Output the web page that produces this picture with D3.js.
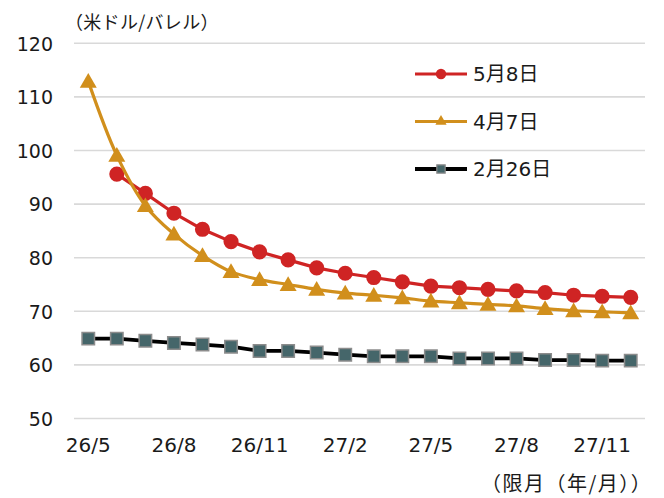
<!DOCTYPE html>
<html>
<head>
<meta charset="utf-8">
<script src="https://cdn.jsdelivr.net/npm/d3@7"></script>
<style>
html, body { margin: 0; padding: 0; background: #fff; }
svg { display: block; }
text { font-family: "DejaVu Sans", "Noto Sans CJK JP", sans-serif; fill: #1a1a1a; }
</style>
</head>
<body>
<svg id="chart" width="664" height="498"></svg>
<script>
const categories = ["26/5","26/6","26/7","26/8","26/9","26/10","26/11","26/12",
  "27/1","27/2","27/3","27/4","27/5","27/6","27/7","27/8","27/9","27/10","27/11","27/12"];
const tickLabels = ["26/5","26/8","26/11","27/2","27/5","27/8","27/11"];
const yTicks = [50, 60, 70, 80, 90, 100, 110, 120];
const seriesNames = ["5月8日", "4月7日", "2月26日"];
const may8 = [null, 95.6, 92.0, 88.3, 85.3, 83.0, 81.1, 79.6, 78.1, 77.1,
  76.3, 75.5, 74.7, 74.4, 74.1, 73.8, 73.5, 73.0, 72.8, 72.6];
const apr7 = [112.9, 99.1, 89.7, 84.4, 80.4, 77.4, 75.9, 75.0, 74.1, 73.4,
  73.0, 72.5, 71.9, 71.6, 71.3, 71.0, 70.5, 70.1, 69.9, 69.7];
const feb26 = [64.9, 64.9, 64.5, 64.1, 63.8, 63.4, 62.6, 62.6, 62.3, 61.9,
  61.6, 61.6, 61.6, 61.2, 61.2, 61.2, 60.9, 60.9, 60.8, 60.8];
const yUnit = "（米ドル/バレル）";
const xTitle = "（限月（年/月））";

const svg = d3.select("#chart");
const x = d3.scaleBand().domain(categories).range([74, 645]);
const y = d3.scaleLinear().domain([50, 120]).range([418.5, 43.3]);
const cx = d => x(d) + x.bandwidth() / 2;

// gridlines
svg.append("g").selectAll("line").data(yTicks).join("line")
  .attr("x1", 74).attr("x2", 645)
  .attr("y1", d => y(d)).attr("y2", d => y(d))
  .attr("stroke", "#d9d9d9").attr("stroke-width", 1.6);

// y axis
const yAxis = svg.append("g").attr("transform", "translate(53,0)")
  .call(d3.axisLeft(y).tickValues(yTicks).tickSize(0).tickPadding(0));
yAxis.select(".domain").remove();
yAxis.selectAll("text").attr("font-size", 19).attr("dy", "0.36em")
  .style("font-family", "'DejaVu Sans', sans-serif").attr("fill", "#1a1a1a");

// x axis
const xAxis = svg.append("g").attr("transform", "translate(0,434)")
  .call(d3.axisBottom(x).tickValues(tickLabels).tickSize(0).tickPadding(0));
xAxis.select(".domain").remove();
xAxis.selectAll("text").attr("font-size", 20).attr("dy", "0.75em").attr("y", 3)
  .style("font-family", "'DejaVu Sans', sans-serif").attr("fill", "#1a1a1a");

// titles
svg.append("text").attr("x", 65).attr("y", 29).attr("font-size", 18)
  .attr("letter-spacing", 0.3)
  .style("font-family", "'Noto Sans CJK JP', sans-serif").text(yUnit);
svg.append("text").attr("x", 481).attr("y", 491)
  .attr("font-size", 20).attr("letter-spacing", 1.5)
  .style("font-family", "'Noto Sans CJK JP', sans-serif").text(xTitle);

const series = [
  { name: seriesNames[0], values: may8, color: "#cf2424", lw: 3.2, marker: "circle", fill: "#cf2424", stroke: "none", curve: d3.curveLinear },
  { name: seriesNames[1], values: apr7, color: "#d18f1c", lw: 3.2, marker: "triangle", fill: "#d18f1c", stroke: "none", curve: d3.curveCatmullRom.alpha(0.5) },
  { name: seriesNames[2], values: feb26, color: "#000000", lw: 3.8, marker: "square", fill: "#45666a", stroke: "#8c8c8c", curve: d3.curveLinear }
];

const sym = {
  circle: d3.symbol().type(d3.symbolCircle).size(180),
  triangle: d3.symbol().type(d3.symbolTriangle).size(125),
  square: d3.symbol().type(d3.symbolSquare).size(155)
};
const symSmall = {
  circle: d3.symbol().type(d3.symbolCircle).size(85),
  triangle: d3.symbol().type(d3.symbolTriangle).size(55),
  square: d3.symbol().type(d3.symbolSquare).size(70)
};

series.forEach(s => {
  const pts = categories.map((c, i) => ({ c, v: s.values[i] })).filter(p => p.v != null);
  const line = d3.line().x(p => cx(p.c)).y(p => y(p.v)).curve(s.curve);
  const g = svg.append("g");
  g.append("path").datum(pts).attr("d", line).attr("fill", "none")
    .attr("stroke", s.color).attr("stroke-width", s.lw).attr("stroke-linejoin", "round");
  g.selectAll("path.m").data(pts).join("path").attr("class", "m")
    .attr("d", sym[s.marker])
    .attr("transform", p => `translate(${cx(p.c)},${y(p.v) + (s.marker === "triangle" ? 1.5 : 0)})`)
    .attr("fill", s.fill).attr("stroke", s.stroke).attr("stroke-width", 1.5);
});

// legend
const legY = [74, 121.5, 169];
series.forEach((s, i) => {
  const g = svg.append("g").attr("transform", `translate(0,${legY[i]})`);
  g.append("line").attr("x1", 415).attr("x2", 467).attr("y1", 0).attr("y2", 0)
    .attr("stroke", s.color).attr("stroke-width", s.lw);
  g.append("path").attr("d", symSmall[s.marker]).attr("transform", "translate(441,0)")
    .attr("fill", s.fill).attr("stroke", s.stroke).attr("stroke-width", 1.2);
  g.append("text").attr("x", 473).attr("y", 0).attr("dy", "0.36em").attr("font-size", 20).text(s.name);
});
</script>
</body>
</html>
